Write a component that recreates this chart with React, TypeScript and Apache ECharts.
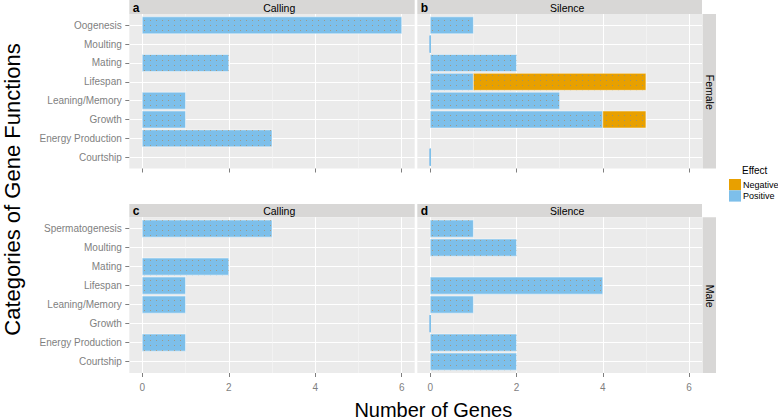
import React, { useEffect, useRef } from "react";
import * as echarts from "echarts";

const femaleCategories = ["Oogenesis", "Moulting", "Mating", "Lifespan", "Leaning/Memory", "Growth", "Energy Production", "Courtship"];
const maleCategories = ["Spermatogenesis", "Moulting", "Mating", "Lifespan", "Leaning/Memory", "Growth", "Energy Production", "Courtship"];
const xTicks = [0, 2, 4, 6];
const xMinorTicks = [1, 3, 5];
const yTickIdx = [0, 1, 2, 3, 4, 5, 6, 7];

// null = no bar, 0 = zero-length bar
const femaleCallingPositive = [6, null, 2, null, 1, 1, 3, null];
const femaleCallingNegative = [null, null, null, null, null, null, null, null];
const femaleSilencePositive = [1, 0, 2, 1, 3, 4, null, 0];
const femaleSilenceNegative = [null, null, null, 4, null, 1, null, null];
const maleCallingPositive = [3, null, 2, 1, 1, null, 1, null];
const maleCallingNegative = [null, null, null, null, null, null, null, null];
const maleSilencePositive = [1, 2, null, 4, 1, 0, 2, 2];
const maleSilenceNegative = [null, null, null, null, null, null, null, null];

const rowLabels = ["Female", "Male"];
const colLabels = ["Calling", "Silence"];
const panelLetters = ["a", "b", "c", "d"];

const BLUE = "#7DBFEA";
const ORANGE = "#E8A000";
const FONT = "Liberation Sans, Arial, Helvetica, sans-serif";

export default function App() {
  const ref = useRef<HTMLDivElement>(null);
  useEffect(() => {
    document.body.style.margin = "0";
    const chart = echarts.init(ref.current!, null, { renderer: "svg" });

    const grids = [
      { left: 129.3, top: 14, width: 285.4, height: 154.5 },
      { left: 417.3, top: 14, width: 284.7, height: 154.5 },
      { left: 129.3, top: 217.2, width: 285.4, height: 155.8 },
      { left: 417.3, top: 217.2, width: 284.7, height: 155.8 },
    ];
    const panels = [
      { cats: femaleCategories, pos: femaleCallingPositive, neg: femaleCallingNegative },
      { cats: femaleCategories, pos: femaleSilencePositive, neg: femaleSilenceNegative },
      { cats: maleCategories, pos: maleCallingPositive, neg: maleCallingNegative },
      { cats: maleCategories, pos: maleSilencePositive, neg: maleSilenceNegative },
    ];

    const xAxis: any[] = [];
    const yAxis: any[] = [];
    const series: any[] = [];

    const renderItem = (decalColor: string) => (params: any, api: any) => {
      const c = api.value(0);
      const s = api.value(1);
      const e = api.value(2);
      const p0 = api.coord([s, c]);
      const p1 = api.coord([e, c]);
      const h = api.size([0, 1])[1] * 0.9;
      const w = p1[0] - p0[0];
      const color = api.visual("color");
      return {
        type: "rect",
        shape: { x: p0[0], y: p0[1] - h / 2, width: w, height: h },
        style: {
          fill: color,
          stroke: w === 0 ? color : "rgba(255,255,255,0.45)",
          lineWidth: w === 0 ? 1 : 0.6,
          decal: {
            symbol: "rect",
            symbolSize: 1,
            color: decalColor,
            dashArrayX: [1, 5],
            dashArrayY: [1, 4],
            rotation: 0,
          },
        },
      };
    };

    panels.forEach((p, g) => {
      const bottomRow = g >= 2;
      const leftCol = g % 2 === 0;
      xAxis.push({
        type: "value",
        gridIndex: g,
        min: -0.3,
        max: 6.3,
        position: "bottom",
        axisLine: { show: false, onZero: false },
        axisTick: { show: true, length: 4, lineStyle: { color: "#7F7F7F", width: 1 }, customValues: xTicks },
        axisLabel: {
          show: bottomRow,
          customValues: xTicks,
          color: "#7F7F7F",
          fontSize: 10,
          fontFamily: FONT,
          margin: 9,
        },
        splitLine: { show: true, lineStyle: { color: "#FFFFFF", width: 1.1 } },
      });
      xAxis.push({
        type: "value",
        gridIndex: g,
        min: -0.3,
        max: 6.3,
        position: "top",
        axisLine: { show: false, onZero: false },
        axisTick: { show: false, customValues: xMinorTicks },
        axisLabel: { show: false, customValues: xMinorTicks },
        splitLine: { show: true, lineStyle: { color: "#F7F7F7", width: 0.6 } },
      });
      yAxis.push({
        type: "value",
        gridIndex: g,
        min: -0.6,
        max: 7.6,
        inverse: true,
        position: "left",
        axisLine: { show: false, onZero: false },
        axisTick: {
          show: leftCol,
          length: 4,
          lineStyle: { color: "#7F7F7F", width: 1 },
          customValues: yTickIdx,
        },
        axisLabel: {
          show: leftCol,
          customValues: yTickIdx,
          formatter: (v: number) => p.cats[Math.round(v)] ?? "",
          color: "#7F7F7F",
          fontSize: 10,
          fontFamily: FONT,
          margin: 7.5,
        },
        splitLine: { show: true, lineStyle: { color: "#FFFFFF", width: 1.1 } },
      });

      const posData: number[][] = [];
      const negData: number[][] = [];
      p.cats.forEach((_, i) => {
        const pv = p.pos[i];
        const nv = p.neg[i];
        if (pv !== null && pv !== undefined) posData.push([i, 0, pv]);
        if (nv !== null && nv !== undefined) {
          const base = pv ?? 0;
          negData.push([i, base, base + nv]);
        }
      });
      series.push({
        type: "custom",
        name: "Positive",
        xAxisIndex: 2 * g,
        yAxisIndex: g,
        itemStyle: { color: BLUE },
        renderItem: renderItem("rgba(176,132,80,0.65)"),
        data: posData,
        encode: { x: [1, 2], y: 0 },
      });
      series.push({
        type: "custom",
        name: "Negative",
        xAxisIndex: 2 * g,
        yAxisIndex: g,
        itemStyle: { color: ORANGE },
        renderItem: renderItem("rgba(120,140,160,0.65)"),
        data: negData,
        encode: { x: [1, 2], y: 0 },
      });
    });

    const graphic: any[] = [];
    // top strips
    grids.forEach((gr, g) => {
      const stripTop = g < 2 ? 0 : 204;
      const stripH = gr.top - stripTop;
      graphic.push({
        type: "rect",
        shape: { x: gr.left, y: stripTop, width: gr.width, height: stripH },
        style: { fill: "#D8D7D6" },
        z: -1,
      });
      graphic.push({
        type: "text",
        x: gr.left + 3.5,
        y: stripTop + stripH / 2 + 0.5,
        style: {
          text: panelLetters[g],
          fontSize: 12,
          fontWeight: "bold",
          fontFamily: FONT,
          fill: "#000",
          textVerticalAlign: "middle",
          textAlign: "left",
        },
      });
      graphic.push({
        type: "text",
        x: g % 2 === 0 ? 279.2 : 567.2,
        y: stripTop + stripH / 2 + 0.5,
        style: {
          text: colLabels[g % 2],
          fontSize: 10.5,
          fontFamily: FONT,
          fill: "#000",
          textVerticalAlign: "middle",
          textAlign: "center",
        },
      });
    });
    // right strips
    [grids[1], grids[3]].forEach((gr, r) => {
      graphic.push({
        type: "rect",
        shape: { x: 702.5, y: gr.top, width: 13.5, height: gr.height },
        style: { fill: "#D8D7D6" },
        z: -1,
      });
      graphic.push({
        type: "text",
        x: 709.5,
        y: gr.top + gr.height / 2 + 1,
        rotation: -Math.PI / 2,
        style: {
          text: rowLabels[r],
          fontSize: 10.5,
          fontFamily: FONT,
          fill: "#000",
          textVerticalAlign: "middle",
          textAlign: "center",
        },
      });
    });
    // axis titles
    graphic.push({
      type: "text",
      x: 433.3,
      y: 409.5,
      style: {
        text: "Number of Genes",
        fontSize: 20,
        fontFamily: FONT,
        fill: "#000",
        textAlign: "center",
        textVerticalAlign: "middle",
      },
    });
    graphic.push({
      type: "text",
      x: 12.5,
      y: 189.5,
      rotation: Math.PI / 2,
      style: {
        text: "Categories of Gene Functions",
        fontSize: 22,
        fontFamily: FONT,
        fill: "#000",
        textAlign: "center",
        textVerticalAlign: "middle",
      },
    });
    graphic.push({
      type: "text",
      x: 742,
      y: 170,
      style: {
        text: "Effect",
        fontSize: 10,
        fontFamily: FONT,
        fill: "#000",
        textAlign: "left",
        textVerticalAlign: "middle",
      },
    });

    chart.setOption({
      animation: false,
      grid: grids.map((gr) => ({
        ...gr,
        show: true,
        backgroundColor: "#EBEBEB",
        borderWidth: 0,
        containLabel: false,
      })),
      xAxis,
      yAxis,
      series,
      legend: {
        data: ["Negative", "Positive"],
        orient: "vertical",
        left: 729,
        top: 179,
        padding: 0,
        itemWidth: 12,
        itemHeight: 11.3,
        itemGap: 0,
        icon: "rect",
        selectedMode: false,
        textStyle: { fontSize: 9, color: "#000", fontFamily: FONT, padding: [0, 0, 0, -3] },
      },
      graphic,
    });
    return () => chart.dispose();
  }, []);
  return <div ref={ref} style={{ width: 778, height: 420 }} />;
}
